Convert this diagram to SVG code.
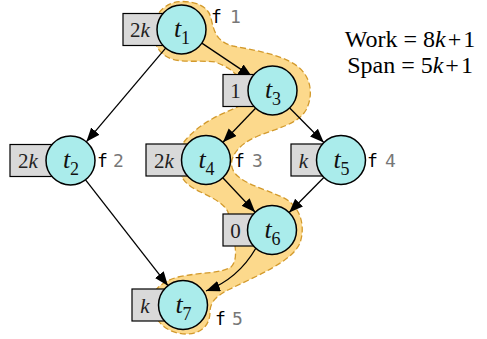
<svg xmlns="http://www.w3.org/2000/svg" width="487" height="339" viewBox="0 0 487 339">
<style>
.box{fill:#d9d9d9;stroke:#000;stroke-width:1.2}
.node{fill:#aaeceb;stroke:#000;stroke-width:1.5}
.bl{font-family:"Liberation Serif",serif;font-size:21px;fill:#222}
.tl{font-family:"Liberation Serif",serif;font-size:26px;fill:#111}
.fl{font-family:"DejaVu Sans Mono",monospace;font-size:18px;fill:#000}
.fn{fill:#777}
.edge{fill:none;stroke:#000;stroke-width:1.3}
.stat{font-family:"Liberation Serif",serif;font-size:24px;fill:#000}
</style>
<defs>
<marker id="ah" markerUnits="userSpaceOnUse" markerWidth="15" markerHeight="12" refX="14" refY="5.5" orient="auto">
<path d="M0,0 L14,5.5 L0,11 z" fill="#000"/>
</marker>
</defs>
<g id="critical-path">
<path d="M153.5,29.5 A28,28 0 0 1 181.5,1.5 C196,1.5 208,6 211,18 C214,32 217,42 233,46 C253,50 281,54 297,66 C311,76 314,95 306,110 C298,124 278,128 258,136 C236,145 228,160 233,170 C238,182 262,188 282,197 C300,205 306,225 300,243 C292,262 256,276 228,290 C212,298 210,306 210,312 C210,326 200,334 187,334 C170,334 156,324 154,310 L152,300 C152,292 160,282 178,277 C200,272 220,274 231,267 C237,261 236,250 234,240 L228,212 C222,200 205,195 193,188 C183,182 178,172 178,165 L180,148 C184,140 196,128 212,119 C224,112 238,108 242,104 L240,80 C236,72 226,66 215,62 C200,60 185,63 172,59 C160,55 153,45 153.5,29.5 Z" fill="#fcd98c" stroke="#d39a2c" stroke-width="1.3" stroke-dasharray="6 3"/>
</g>
<g id="connectors">
<path class="edge" d="M201.85,43.14 L252.15,76.86" marker-end="url(#ah)"/>
<path class="edge" d="M165.66,48.19 L86.34,141.81" marker-end="url(#ah)"/>
<path class="edge" d="M255.56,108.2 L222.94,142.3" marker-end="url(#ah)"/>
<path class="edge" d="M289.7,107.95 L323.8,142.55" marker-end="url(#ah)"/>
<path class="edge" d="M85.55,179.83 L167.95,285.67" marker-end="url(#ah)"/>
<path class="edge" d="M222.8,177.8 L255.2,212.2" marker-end="url(#ah)"/>
<path class="edge" d="M323.8,177.45 L289.2,212.55" marker-end="url(#ah)"/>
<path class="edge" d="M256,248 Q238,279 206,291" marker-end="url(#ah)"/>
</g>
<g id="t1">
<rect class="box" x="123" y="13.5" width="58" height="32"/>
<text class="bl" x="140" y="37" text-anchor="middle">2<tspan font-style="italic">k</tspan></text>
<circle class="node" cx="181.5" cy="29.5" r="24.5"/>
<text class="tl" x="182" y="37" text-anchor="middle"><tspan font-style="italic">t</tspan><tspan font-size="18" dy="7">1</tspan></text>
<text class="fl" x="211" y="23">f<tspan class="fn" x="230">1</tspan></text>
</g>
<g id="t2">
<rect class="box" x="10" y="144.5" width="60" height="32"/>
<text class="bl" x="28" y="168" text-anchor="middle">2<tspan font-style="italic">k</tspan></text>
<circle class="node" cx="70.5" cy="160.5" r="24.5"/>
<text class="tl" x="71" y="168" text-anchor="middle"><tspan font-style="italic">t</tspan><tspan font-size="18" dy="7">2</tspan></text>
<text class="fl" x="97" y="166.5">f<tspan class="fn" x="113">2</tspan></text>
</g>
<g id="t3">
<rect class="box" x="223" y="74.5" width="49" height="32"/>
<text class="bl" x="235.5" y="98" text-anchor="middle">1</text>
<circle class="node" cx="272.5" cy="90.5" r="24.5"/>
<text class="tl" x="273" y="98" text-anchor="middle"><tspan font-style="italic">t</tspan><tspan font-size="18" dy="7">3</tspan></text>
</g>
<g id="t4">
<rect class="box" x="146" y="144" width="60" height="32"/>
<text class="bl" x="164" y="167.5" text-anchor="middle">2<tspan font-style="italic">k</tspan></text>
<circle class="node" cx="206" cy="160" r="24.5"/>
<text class="tl" x="206.5" y="167.5" text-anchor="middle"><tspan font-style="italic">t</tspan><tspan font-size="18" dy="7">4</tspan></text>
<text class="fl" x="234" y="166.5">f<tspan class="fn" x="252">3</tspan></text>
</g>
<g id="t5">
<rect class="box" x="291" y="144" width="50" height="32"/>
<text class="bl" x="303.5" y="167.5" text-anchor="middle" font-style="italic">k</text>
<circle class="node" cx="341" cy="160" r="24.5"/>
<text class="tl" x="341.5" y="167.5" text-anchor="middle"><tspan font-style="italic">t</tspan><tspan font-size="18" dy="7">5</tspan></text>
<text class="fl" x="367" y="166.5">f<tspan class="fn" x="385">4</tspan></text>
</g>
<g id="t6">
<rect class="box" x="223" y="214" width="49" height="32"/>
<text class="bl" x="235.5" y="237.5" text-anchor="middle">0</text>
<circle class="node" cx="272" cy="230" r="24.5"/>
<text class="tl" x="272.5" y="237.5" text-anchor="middle"><tspan font-style="italic">t</tspan><tspan font-size="18" dy="7">6</tspan></text>
</g>
<g id="t7">
<rect class="box" x="132" y="289" width="51" height="32"/>
<text class="bl" x="145" y="312.5" text-anchor="middle" font-style="italic">k</text>
<circle class="node" cx="183" cy="305" r="24.5"/>
<text class="tl" x="183.5" y="312.5" text-anchor="middle"><tspan font-style="italic">t</tspan><tspan font-size="18" dy="7">7</tspan></text>
<text class="fl" x="215" y="325">f<tspan class="fn" x="232">5</tspan></text>
</g>
<g id="stats">
<text class="stat" x="410" y="47" text-anchor="middle">Work = 8<tspan font-style="italic">k</tspan><tspan dx="2">+</tspan><tspan dx="2">1</tspan></text>
<text class="stat" x="410" y="73" text-anchor="middle">Span = 5<tspan font-style="italic">k</tspan><tspan dx="2">+</tspan><tspan dx="2">1</tspan></text>
</g>
</svg>
